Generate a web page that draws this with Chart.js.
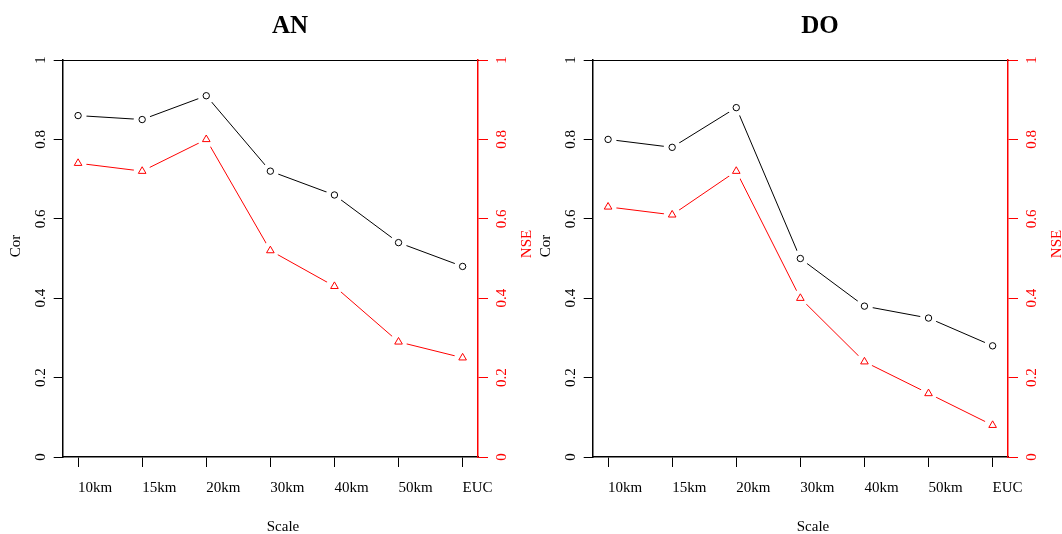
<!DOCTYPE html>
<html>
<head>
<meta charset="utf-8">
<script src="https://cdn.jsdelivr.net/npm/chart.js@4/dist/chart.umd.min.js"></script>
<style>
  html, body { margin: 0; padding: 0; background: #fff; }
  #wrap { position: relative; width: 1062px; height: 534px; overflow: hidden; }
  canvas { display: block; position: absolute; top: 0; }
  #an { left: 0; }
  #do { left: 530px; }
</style>
</head>
<body>
<div id="wrap">
  <canvas id="an" width="545" height="534"></canvas>
  <canvas id="do" width="532" height="534"></canvas>
</div>
<script>
// kategorier på x-axeln
const categories = ["10km", "15km", "20km", "30km", "40km", "50km", "EUC"];

// AN-panelen
const anCor = [0.86, 0.85, 0.91, 0.72, 0.66, 0.54, 0.48];
const anNse = [0.74, 0.72, 0.80, 0.52, 0.43, 0.29, 0.25];

// DO-panelen
const doCor = [0.80, 0.78, 0.88, 0.50, 0.38, 0.35, 0.28];
const doNse = [0.63, 0.61, 0.72, 0.40, 0.24, 0.16, 0.08];

// y-axelns ticks
const yTicks = [0, 0.2, 0.4, 0.6, 0.8, 1];
const yTickLabels = ["0", "0.2", "0.4", "0.6", "0.8", "1"];

const serif = "'Liberation Serif', 'DejaVu Serif', serif";
const tickFont = { family: serif, size: 15 };

// gör om en serie till {x, y} punkter
const toPoints = (values) => values.map((v, i) => ({ x: i + 1, y: v }));

// vita prickar under markörerna ger glapp i linjen (som R type="b")
const gapRadius = 8.5;

// text som inte är ticks: titel och axeltitlar
const textPlugin = {
  id: "texts",
  afterDraw(chart, args, opts) {
    const ctx = chart.ctx;
    ctx.save();
    ctx.textAlign = "center";
    ctx.textBaseline = "alphabetic";

    ctx.fillStyle = "#000";
    ctx.font = "bold 25px " + serif;
    ctx.fillText(opts.title, 290, 33);

    ctx.font = "15px " + serif;
    ctx.fillText("Scale", 283, 531);

    // roterade axeltitlar
    const vtext = (txt, x, y, color) => {
      ctx.save();
      ctx.translate(x, y);
      ctx.rotate(-Math.PI / 2);
      ctx.fillStyle = color;
      ctx.textBaseline = "middle";
      ctx.fillText(txt, 0, 0);
      ctx.restore();
    };
    vtext("Cor", 16, 246, "#000");
    vtext("NSE", 527, 244, "#ff0000");
    ctx.restore();
  },
};

const makeChart = (canvasId, title, cor, nse) => {
  const ctx = document.getElementById(canvasId).getContext("2d");
  return new Chart(ctx, {
    type: "line",
    data: {
      datasets: [
        {
          data: toPoints(cor),
          yAxisID: "y",
          borderColor: "#000",
          borderWidth: 1,
          pointRadius: gapRadius,
          pointHoverRadius: gapRadius,
          pointBorderWidth: 0,
          pointBackgroundColor: "#ffffff",
          order: 3,
        },
        {
          data: toPoints(nse),
          yAxisID: "y1",
          borderColor: "#ff0000",
          borderWidth: 1,
          pointRadius: gapRadius,
          pointHoverRadius: gapRadius,
          pointBorderWidth: 0,
          pointBackgroundColor: "#ffffff",
          order: 2,
        },
        {
          data: toPoints(cor),
          yAxisID: "y",
          showLine: false,
          pointStyle: "circle",
          pointRadius: 3.2,
          pointBorderWidth: 1,
          pointBorderColor: "#000",
          pointBackgroundColor: "rgba(0,0,0,0)",
          order: 1,
        },
        {
          data: toPoints(nse),
          yAxisID: "y1",
          showLine: false,
          pointStyle: "triangle",
          pointRadius: 4.4,
          pointBorderWidth: 1,
          pointBorderColor: "#ff0000",
          pointBackgroundColor: "rgba(0,0,0,0)",
          order: 0,
        },
      ],
    },
    options: {
      responsive: false,
      animation: false,
      devicePixelRatio: 1,
      layout: { padding: 0 },
      plugins: {
        legend: { display: false },
        tooltip: { enabled: false },
        title: { display: false },
        texts: { title: title },
      },
      scales: {
        x: {
          type: "linear",
          position: "bottom",
          min: 0.76,
          max: 7.24,
          afterBuildTicks: (s) => {
            s.ticks = categories.map((c, i) => ({ value: i + 1 }));
          },
          afterFit: (s) => {
            s.height = 77;
          },
          ticks: {
            callback: (v, i) => categories[i],
            align: "start",
            autoSkip: false,
            maxRotation: 0,
            padding: 12,
            color: "#000",
            font: tickFont,
          },
          grid: { drawOnChartArea: false, tickLength: 10, color: "#000" },
          border: { color: "#000", width: 1.5 },
        },
        xTop: {
          type: "linear",
          position: "top",
          min: 0.76,
          max: 7.24,
          afterFit: (s) => {
            s.height = 60;
          },
          ticks: { display: false },
          grid: { display: false },
          border: { color: "#000", width: 1 },
        },
        y: {
          position: "left",
          min: 0,
          max: 1,
          afterBuildTicks: (s) => {
            s.ticks = yTicks.map((v) => ({ value: v }));
          },
          afterFit: (s) => {
            s.width = 62.7;
          },
          ticks: {
            callback: (v, i) => yTickLabels[i],
            minRotation: 90,
            maxRotation: 90,
            crossAlign: "center",
            padding: 3,
            color: "#000",
            font: tickFont,
          },
          grid: { drawOnChartArea: false, tickLength: 9, color: "#000" },
          border: { color: "#000", width: 1.5 },
        },
        y1: {
          position: "right",
          min: 0,
          max: 1,
          afterBuildTicks: (s) => {
            s.ticks = yTicks.map((v) => ({ value: v }));
          },
          afterFit: (s) => {
            s.width = s.chart.width - 478;
          },
          ticks: {
            callback: (v, i) => yTickLabels[i],
            minRotation: 90,
            maxRotation: 90,
            crossAlign: "center",
            padding: 5,
            color: "#ff0000",
            font: tickFont,
          },
          grid: { drawOnChartArea: false, tickLength: 10, color: "#ff0000" },
          border: { color: "#ff0000", width: 1.5 },
        },
      },
    },
    plugins: [textPlugin],
  });
};

makeChart("an", "AN", anCor, anNse);
makeChart("do", "DO", doCor, doNse);
</script>
</body>
</html>
